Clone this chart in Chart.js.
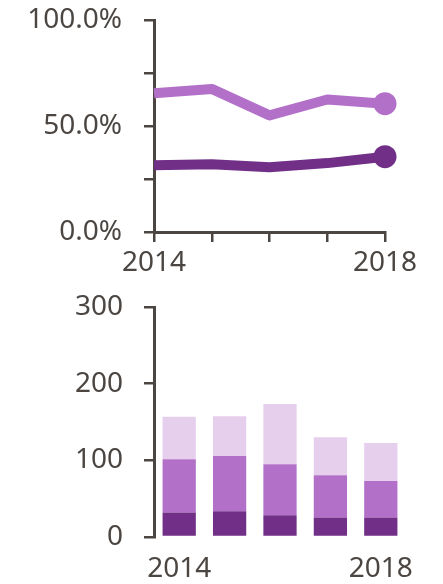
<!DOCTYPE html>
<html>
<head>
<meta charset="utf-8">
<script src="https://cdn.jsdelivr.net/npm/chart.js@4/dist/chart.umd.min.js"></script>
<style>
  html, body { margin: 0; padding: 0; background: #fff; }
  #wrap { position: relative; width: 443px; height: 584px; }
  canvas { position: absolute; left: 0; }
  #share-chart { top: 0; }
  #count-chart { top: 290px; }
</style>
</head>
<body>
<div id="wrap">
  <canvas id="share-chart" width="443" height="290"></canvas>
  <canvas id="count-chart" width="443" height="294"></canvas>
</div>
<script>
const years = ['2014', '2015', '2016', '2017', '2018']
const shownYears = ['2014', '2018']

// top panel, percent
const shareLight = [65.5, 67.5, 55, 62.5, 60.5]
const shareDark = [31.5, 32, 30.5, 32.5, 35.5]
const shareTicks = [0, 50, 100]

// bottom panel, stacked counts
const barDark = [32, 33.5, 28.5, 25.5, 25.5]
const barMid = [69.5, 72, 66.5, 55, 47.5]
const barLight = [55.5, 52, 78.5, 49.5, 49.5]

const ink = '#4b4642'
const purpleDark = '#712f87'
const purpleMid = '#b370c9'
const purpleLight = '#e6cfed'
const font = { family: "'Noto Sans', sans-serif", size: 28 }

const yearLabel = function (v, i) {
  return shownYears.includes(years[i]) ? years[i] : ''
}

// fixed width for the y axis, and no extra room above/below for its labels
const fixY = (s) => {
  s.width = 154
  s.paddingTop = 0
  s.paddingBottom = 0
}

// only mark the last point of each line
const endDot = years.map((y, i) => (i === years.length - 1 ? 11.5 : 0))

new Chart(document.getElementById('share-chart'), {
  type: 'line',
  data: {
    labels: years,
    datasets: [
      {
        data: shareLight,
        borderColor: purpleMid,
        backgroundColor: purpleMid,
        borderWidth: 10,
        pointRadius: endDot,
        pointBorderWidth: 0,
        tension: 0,
        borderJoinStyle: 'round',
        clip: false,
      },
      {
        data: shareDark,
        borderColor: purpleDark,
        backgroundColor: purpleDark,
        borderWidth: 10,
        pointRadius: endDot,
        pointBorderWidth: 0,
        tension: 0,
        borderJoinStyle: 'round',
        clip: false,
      },
    ],
  },
  options: {
    responsive: false,
    animation: false,
    layout: { padding: { top: 20, right: 58, left: 0, bottom: 0 } },
    plugins: { legend: { display: false }, tooltip: { enabled: false } },
    scales: {
      x: {
        offset: false,
        grid: { drawOnChartArea: false, tickLength: 10, color: ink, lineWidth: 2.5 },
        border: { color: ink, width: 3 },
        ticks: { autoSkip: false, maxRotation: 0, padding: 4, color: ink, font, callback: yearLabel },
        afterFit: (s) => { s.height = 58 },
      },
      y: {
        min: 0,
        max: 100,
        grid: { drawOnChartArea: false, tickLength: 10, color: ink, lineWidth: 2.5 },
        border: { color: ink, width: 3 },
        ticks: {
          stepSize: 25,
          padding: 22,
          color: ink,
          font,
          callback: (v) => (shareTicks.includes(v) ? v.toFixed(1) + '%' : ''),
        },
        afterFit: fixY,
      },
    },
  },
})

new Chart(document.getElementById('count-chart'), {
  type: 'bar',
  data: {
    labels: years,
    datasets: [
      { data: barDark, backgroundColor: purpleDark },
      { data: barMid, backgroundColor: purpleMid },
      { data: barLight, backgroundColor: purpleLight },
    ],
  },
  options: {
    responsive: false,
    animation: false,
    categoryPercentage: 1,
    barPercentage: 0.66,
    layout: { padding: { top: 17, right: 37, left: 0, bottom: 0 } },
    plugins: { legend: { display: false }, tooltip: { enabled: false } },
    scales: {
      x: {
        stacked: true,
        grid: { display: false, drawTicks: false },
        border: { display: false },
        ticks: { autoSkip: false, maxRotation: 0, padding: 15, color: ink, font, callback: yearLabel },
        afterFit: (s) => { s.height = 47 },
      },
      y: {
        stacked: true,
        min: 0,
        max: 300,
        grid: { drawOnChartArea: false, tickLength: 10, color: ink, lineWidth: 2.5 },
        border: { color: ink, width: 3 },
        ticks: { stepSize: 100, padding: 21, color: ink, font },
        afterFit: fixY,
      },
    },
  },
})
</script>
</body>
</html>
